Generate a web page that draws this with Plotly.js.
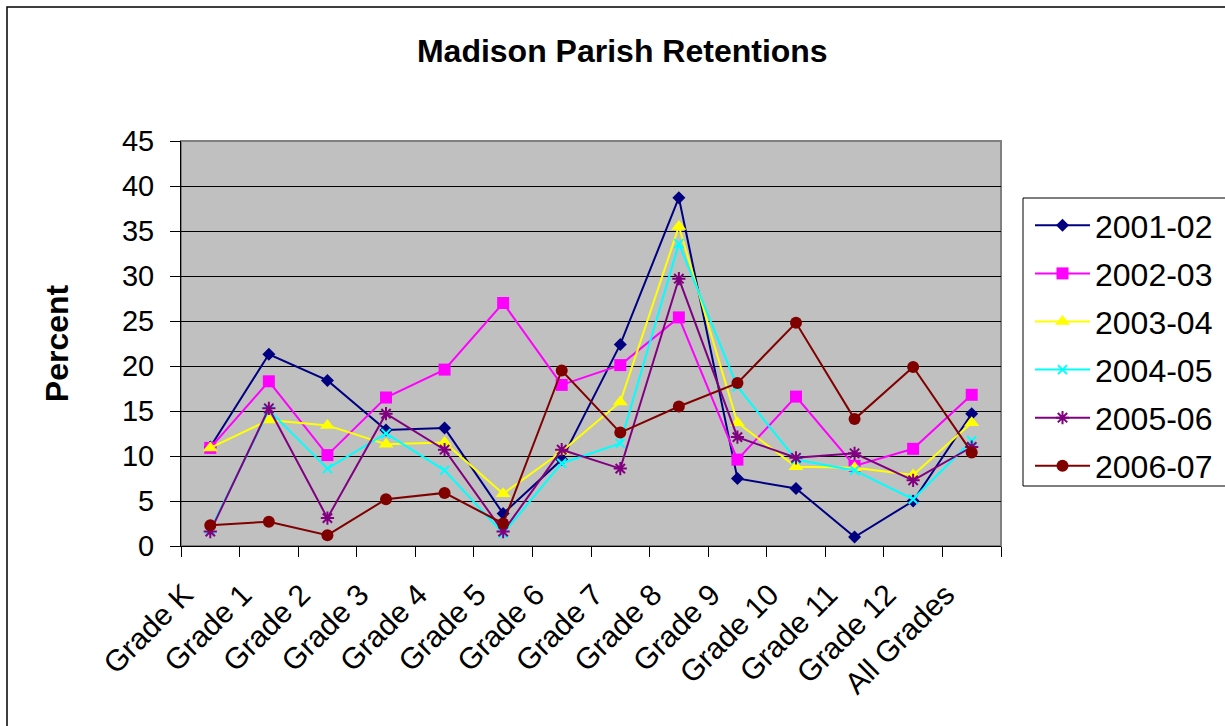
<!DOCTYPE html>
<html>
<head>
<meta charset="utf-8">
<script src="https://cdn.plot.ly/plotly-3.0.1.min.js"></script>
<style>
html,body{margin:0;padding:0;background:#fff;}
#chart{width:1225px;height:726px;}
</style>
</head>
<body>
<div id="chart"></div>
<script>
const categories = ["Grade K","Grade 1","Grade 2","Grade 3","Grade 4","Grade 5","Grade 6","Grade 7","Grade 8","Grade 9","Grade 10","Grade 11","Grade 12","All Grades"];
const seriesNames = ["2001-02","2002-03","2003-04","2004-05","2005-06","2006-07"];
const y2001_02 = [11.0, 21.3, 18.4, 12.9, 13.1, 3.6, 9.6, 22.4, 38.7, 7.5, 6.4, 1.0, 5.0, 14.7];
const y2002_03 = [10.9, 18.3, 10.1, 16.5, 19.6, 27.0, 17.9, 20.1, 25.4, 9.6, 16.6, 8.9, 10.8, 16.8];
const y2003_04 = [10.9, 14.0, 13.4, 11.3, 11.5, 5.8, 10.5, 16.0, 35.5, 13.7, 8.8, 8.7, 7.9, 13.7];
const y2004_05 = [1.8, 15.1, 8.6, 12.5, 8.4, 1.4, 9.2, 11.4, 33.6, 17.7, 9.6, 8.4, 5.2, 11.7];
const y2005_06 = [1.6, 15.3, 3.1, 14.7, 10.7, 1.6, 10.7, 8.6, 29.7, 12.1, 9.8, 10.3, 7.3, 11.0];
const y2006_07 = [2.3, 2.7, 1.2, 5.2, 5.9, 2.5, 19.5, 12.6, 15.5, 18.1, 24.8, 14.1, 19.9, 10.4];
const yTickVals = [0,5,10,15,20,25,30,35,40,45];

const FONT = "Liberation Sans, Arial, sans-serif";

const seriesValues = [y2001_02, y2002_03, y2003_04, y2004_05, y2005_06, y2006_07];
const colors = ["#000080","#FF00FF","#FFFF00","#00FFFF","#800080","#800000"];
const symbols = ["diamond","square","triangle-up","x-thin-open","asterisk-open","circle"];
const sizes = [10, 12, 13, 9, 11, 12];

const traces = seriesNames.map((name, i) => ({
  type: "scatter",
  mode: "lines+markers",
  name: name,
  legendgroup: "g" + i,
  x: categories,
  y: seriesValues[i],
  line: {color: colors[i], width: 2},
  marker: {
    symbol: symbols[i],
    size: sizes[i],
    color: colors[i],
    line: {color: colors[i], width: (symbols[i].indexOf("open") >= 0) ? 2 : 0}
  }
}));

// pixel -> paper helpers for decoration shapes
const PL = 181, PR = 1001, PT = 141, PB = 546;
const px = v => (v - PL) / (PR - PL);
const py = v => (PB - v) / (PB - PT);

const layout = {
  width: 1225,
  height: 726,
  margin: {l: PL, r: 1225 - PR, t: PT, b: 726 - PB, pad: 0, autoexpand: false},
  paper_bgcolor: "#FFFFFF",
  plot_bgcolor: "#C0C0C0",
  font: {family: FONT, color: "#000000", size: 30},
  title: {
    text: "<b>Madison Parish Retentions</b>",
    font: {family: FONT, size: 32, color: "#000000"},
    x: 0.508, xanchor: "center",
    y: 0.93, yanchor: "middle"
  },
  showlegend: true,
  legend: {
    x: px(1030), xanchor: "left",
    y: py(198), yanchor: "top",
    bgcolor: "rgba(0,0,0,0)",
    borderwidth: 0,
    font: {family: FONT, size: 32, color: "#000000"},
    itemwidth: 55,
    tracegroupgap: 3.5,
    traceorder: "grouped"
  },
  xaxis: {
    type: "category",
    range: [-0.5, 13.5],
    tickson: "boundaries",
    ticks: "outside",
    ticklen: 10,
    tickwidth: 1,
    tickcolor: "#000000",
    tickangle: -45,
    ticklabelshift: -26,
    ticklabelstandoff: 18,
    tickfont: {family: FONT, size: 30, color: "#000000"},
    showline: true,
    linecolor: "#000000",
    linewidth: 1,
    showgrid: false,
    zeroline: false,
    automargin: false,
    fixedrange: true
  },
  yaxis: {
    range: [0, 45],
    tickvals: yTickVals,
    ticks: "outside",
    ticklen: 10,
    tickwidth: 1,
    tickcolor: "#000000",
    tickfont: {family: FONT, size: 29, color: "#000000"},
    ticklabelstandoff: 10,
    showline: true,
    linecolor: "#000000",
    linewidth: 1,
    showgrid: true,
    gridcolor: "#000000",
    gridwidth: 1,
    zeroline: false,
    automargin: false,
    title: {
      text: "<b>Percent</b>",
      font: {family: FONT, size: 32, color: "#000000"},
      standoff: 43
    },
    fixedrange: true
  },
  shapes: [
    // plot area top/right grey border
    {type: "rect", xref: "paper", yref: "paper", x0: 0, x1: 1, y0: 0, y1: 1,
     line: {color: "#808080", width: 2}, fillcolor: "rgba(0,0,0,0)", layer: "below"},
    // outer chart border
    {type: "rect", xref: "paper", yref: "paper", x0: px(7), x1: px(1260), y0: py(760), y1: py(7),
     line: {color: "#000000", width: 1.5}, fillcolor: "rgba(0,0,0,0)"},
    // legend box
    {type: "rect", xref: "paper", yref: "paper", x0: px(1023), x1: px(1260), y0: py(486), y1: py(198),
     line: {color: "#000000", width: 1}, fillcolor: "rgba(0,0,0,0)"}
  ]
};

Plotly.newPlot("chart", traces, layout, {displayModeBar: false, staticPlot: true});
</script>
</body>
</html>
